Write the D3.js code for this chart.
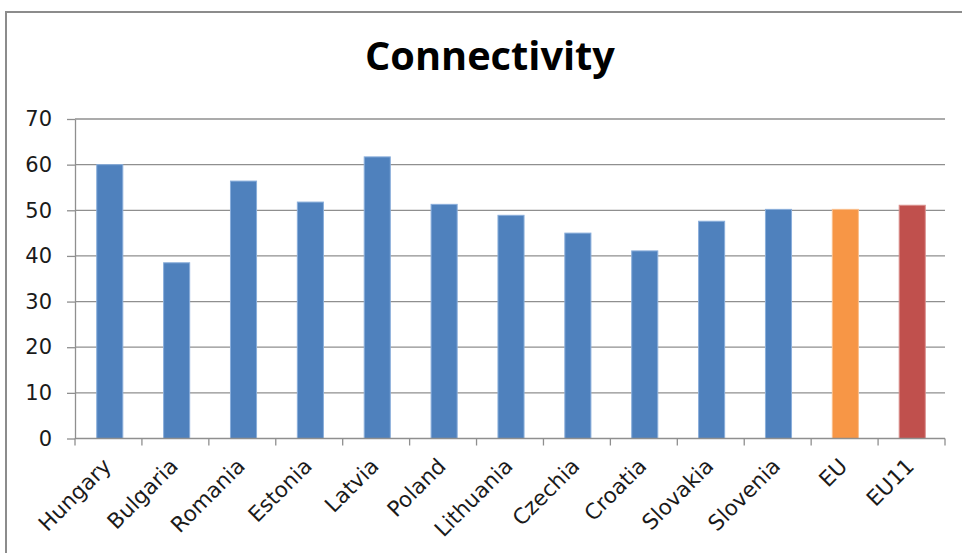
<!DOCTYPE html>
<html>
<head>
<meta charset="utf-8">
<script src="https://cdn.jsdelivr.net/npm/d3@7"></script>
<style>
  html, body { margin: 0; padding: 0; background: #fff; }
  svg { display: block; }
</style>
</head>
<body>
<svg id="chart" width="962" height="553"></svg>
<script>
// Connectivity scores by country, with EU and EU11 averages
const categories = ["Hungary", "Bulgaria", "Romania", "Estonia", "Latvia", "Poland",
  "Lithuania", "Czechia", "Croatia", "Slovakia", "Slovenia", "EU", "EU11"];
const values = [60.0, 38.5, 56.4, 51.8, 61.7, 51.3, 48.9, 45.0, 41.1, 47.6, 50.2, 50.2, 51.1];
const groups = ["country", "country", "country", "country", "country", "country",
  "country", "country", "country", "country", "country", "eu", "eu11"];
const yTicks = [0, 10, 20, 30, 40, 50, 60, 70];
const titleText = "Connectivity";

const fills = { country: "#4f81bd", eu: "#f79646", eu11: "#c0504d" };
const edges = { country: "#8aaedb", eu: "#fbbf8c", eu11: "#da8f8c" };

const svg = d3.select("#chart");
const fontFamily = "'DejaVu Sans', Verdana, sans-serif";

// outer frame (top and left edges visible)
svg.append("rect")
  .attr("x", 6).attr("y", 12)
  .attr("width", 1000).attr("height", 600)
  .attr("fill", "none").attr("stroke", "#8c8c8c").attr("stroke-width", 2);

const plot = { left: 75, right: 945, top: 119, bottom: 438.5 };

const x = d3.scaleBand().domain(categories).range([plot.left, plot.right]).paddingInner(0.61).paddingOuter(0.31);
const xBand = d3.scaleBand().domain(categories).range([plot.left, plot.right]);
const y = d3.scaleLinear().domain([0, 70]).range([plot.bottom, plot.top]);

// horizontal gridlines
svg.append("g").selectAll("line").data(yTicks.filter(d => d > 0)).join("line")
  .attr("x1", plot.left).attr("x2", plot.right)
  .attr("y1", d => y(d)).attr("y2", d => y(d))
  .attr("stroke", "#8f8f8f").attr("stroke-width", 1.3);

// bars
svg.append("g").selectAll("rect").data(categories).join("rect")
  .attr("x", d => x(d) + 1)
  .attr("width", x.bandwidth())
  .attr("y", (d, i) => y(values[i]))
  .attr("height", (d, i) => y(0) - y(values[i]))
  .attr("fill", (d, i) => fills[groups[i]])
  .attr("stroke", (d, i) => edges[groups[i]])
  .attr("stroke-width", 1);

// y axis
const yAxis = svg.append("g")
  .attr("transform", `translate(${plot.left},0)`)
  .call(d3.axisLeft(y).tickValues(yTicks).tickSize(8).tickPadding(15).tickSizeOuter(0));
yAxis.select(".domain").attr("stroke", "#8f8f8f").attr("stroke-width", 1.3);
yAxis.selectAll(".tick line").attr("stroke", "#8f8f8f").attr("stroke-width", 1.3);
yAxis.selectAll(".tick text")
  .attr("font-family", fontFamily).attr("font-size", 21).attr("fill", "#1a1a1a");

// x axis with ticks on category boundaries
const xAxisG = svg.append("g").attr("transform", `translate(0,${plot.bottom})`);
xAxisG.append("line")
  .attr("x1", plot.left).attr("x2", plot.right)
  .attr("stroke", "#8f8f8f").attr("stroke-width", 1.3);
const boundaries = categories.map(c => xBand(c)).concat([plot.right]);
xAxisG.selectAll("line.tk").data(boundaries).join("line").attr("class", "tk")
  .attr("x1", d => d).attr("x2", d => d).attr("y1", 0).attr("y2", 7)
  .attr("stroke", "#8f8f8f").attr("stroke-width", 1.3);

xAxisG.selectAll("text").data(categories).join("text")
  .attr("transform", d => `translate(${xBand(d) + xBand.bandwidth() / 2 + 4},${29}) rotate(-45)`)
  .attr("text-anchor", "end")
  .attr("font-family", fontFamily).attr("font-size", 21.5).attr("fill", "#1a1a1a")
  .text(d => d);

// title, sized to its measured width
const title = svg.append("text")
  .attr("x", 490).attr("y", 70)
  .attr("text-anchor", "middle")
  .attr("font-family", "'Open Sans', sans-serif").attr("font-weight", "bold")
  .attr("font-size", 34).attr("fill", "#000")
  .text(titleText);
const tw = title.node().getComputedTextLength();
title.attr("font-size", 34 * 250 / tw);
</script>
</body>
</html>
